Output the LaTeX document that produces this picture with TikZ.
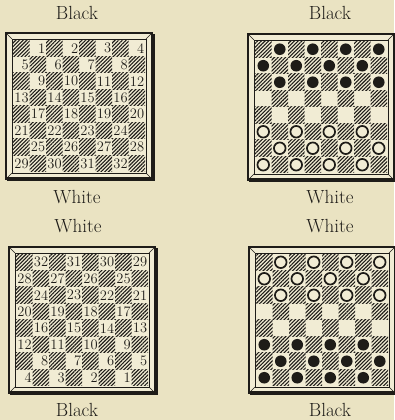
\documentclass[tikz,border=0pt]{standalone}
\usepackage{tikz}
\usetikzlibrary{patterns.meta}
\definecolor{paper}{RGB}{234,227,194}
\definecolor{lightsq}{RGB}{241,236,212}
\definecolor{ink}{RGB}{30,28,24}
\tikzset{
  sidelbl/.style={font=\fontsize{19}{22}\selectfont, text=ink, inner sep=0pt},
  numlbl/.style={font=\fontsize{14.5}{14}\selectfont, text=ink, inner sep=0pt, anchor=east},
  lightfill/.style={fill=lightsq},
  hatchsq/.style={pattern={Lines[angle=45, distance=2.6pt, line width=1.1pt]}, pattern color=ink},
  blackman/.style={fill=ink},
  whiteman/.style={draw=ink, line width=1.7pt, fill=lightsq},
}
% frame and squares of one board, #1 = its lower left corner
\newcommand\boardbase[1]{%
  \begin{scope}[shift={#1}]
    \fill[lightfill] (0,0) rectangle (146,146);
    \foreach \r in {0,...,7}{
      \foreach \c in {0,...,7}{
        \pgfmathtruncatemacro\parity{mod(\r+\c,2)}
        \ifnum\parity=0
          \fill[hatchsq] ({7+16.5*\c},{139-16.5*(\r+1)}) rectangle ++(16.5,16.5);
        \fi
      }
    }
    % bevelled frame
    \draw[ink, line width=0.7pt] (6,6) rectangle (140,140);
    \draw[ink, line width=0.5pt] (1,1) -- (6,6) (1,145) -- (6,140)
                                 (145,145) -- (140,140) (145,1) -- (140,6);
    \draw[ink, line width=2.5pt] (0,0) rectangle (146,146);
    \draw[ink, line width=4pt] (1,-0.5) -- (146.5,-0.5) -- (146.5,145);
  \end{scope}}
% numbers on the light squares, #2 = 0 normal, 1 reversed
\newcommand\boardnums[3]{%
  \begin{scope}[shift={#1}]
    \foreach \r in {0,...,7}{
      \foreach \c in {0,...,7}{
        \pgfmathtruncatemacro\parity{mod(\r+\c,2)}
        \ifnum\parity=1
          \pgfmathtruncatemacro\num{4*\r+int(\c/2)+1}
          \ifnum#2=1 \pgfmathtruncatemacro\num{33-\num}\fi
          \node[numlbl] (#3sq\num) at ({7+16.5*(\c+1)-0.6},{139-16.5*(\r+0.5)}) {\num};
        \fi
      }
    }
  \end{scope}}
% men on the light squares, #2 = style of the top side, #3 = style of the bottom side
\newcommand\boardmen[3]{%
  \begin{scope}[shift={#1}]
    \foreach \r in {0,1,2,5,6,7}{
      \foreach \c in {0,...,7}{
        \pgfmathtruncatemacro\parity{mod(\r+\c,2)}
        \ifnum\parity=1
          \ifnum\r<4 \def\manstyle{#2}\else \def\manstyle{#3}\fi
          \path[\manstyle] ({7+16.5*(\c+0.5)},{139-16.5*(\r+0.5)}) circle (5.8);
        \fi
      }
    }
  \end{scope}}

\begin{document}
\begin{tikzpicture}[x=1pt, y=1pt]
  \fill[paper] (0,0) rectangle (394,420);
  \useasboundingbox (0,0) rectangle (394,420);
  % numbered boards
  \boardbase{(6,241)}
  \boardnums{(6,241)}{0}{tl}
  \boardbase{(9,27)}
  \boardnums{(9,27)}{1}{bl}
  % boards with the men
  \boardbase{(248,240)}
  \boardmen{(248,240)}{blackman}{whiteman}
  \boardbase{(249,27)}
  \boardmen{(249,27)}{whiteman}{blackman}
  % sides
  \node[sidelbl] (tltop) at (77,407) {Black};
  \node[sidelbl] (tlbot) at (77,223) {White};
  \node[sidelbl] (trtop) at (330,407) {Black};
  \node[sidelbl] (trbot) at (330,223) {White};
  \node[sidelbl] (bltop) at (78,194) {White};
  \node[sidelbl] (blbot) at (77,10.5) {Black};
  \node[sidelbl] (brtop) at (330,194) {White};
  \node[sidelbl] (brbot) at (330,10.5) {Black};
\end{tikzpicture}
\end{document}
